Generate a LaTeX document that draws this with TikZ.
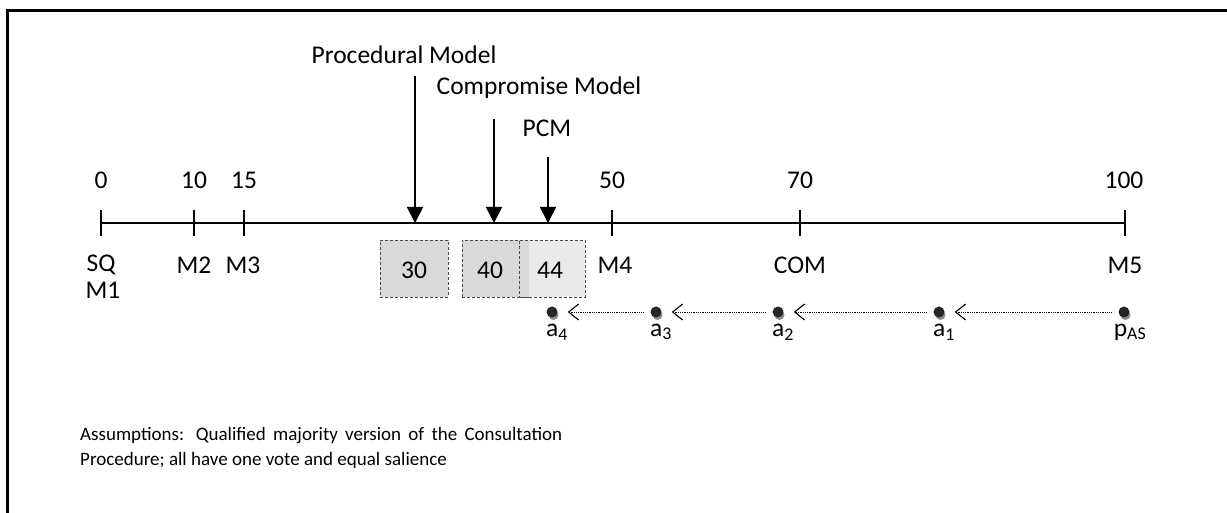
\documentclass[tikz,border=0pt]{standalone}
\usepackage{fontspec}
\setmainfont{Carlito}
\usetikzlibrary{arrows.meta,patterns}
\definecolor{boxgray}{HTML}{D9D9D9}
\definecolor{dotdark}{HTML}{262626}
\definecolor{shadowgray}{HTML}{8C8C8C}
\begin{document}
\begin{tikzpicture}[x=1pt,y=-1pt,
  lbl/.style={font=\fontsize{25.5}{30}\selectfont, inner sep=0pt},
  small/.style={font=\fontsize{19}{25.5}\selectfont, inner sep=0pt},
  tickmark/.style={line width=1.8pt},
  valbox/.style={draw=black!70, densely dashed, line width=0.8pt, fill=boxgray},
  modelarrow/.style={line width=1.8pt, -{Triangle[length=16pt,width=16pt]}},
  dotnode/.style={circle, fill=dotdark, inner sep=0pt, minimum size=11pt},
  dotline/.style={densely dotted, line width=0.8pt, -{Straight Barb[length=10pt,width=16pt,line width=1.1pt]}, shorten >=10pt, shorten <=7pt}
]
\useasboundingbox (0,0) rectangle (1227,513);
% frame
\draw[line width=3pt] (1227,11) -- (7,11) -- (7,513);

% axis
\coordinate (t0) at (101,223);
\coordinate (t10) at (194,223);
\coordinate (t15) at (244,223);
\coordinate (t50) at (612,223);
\coordinate (t70) at (800,223);
\coordinate (t100) at (1125,223);
\draw[line width=1.8pt] (t0) -- (t100);
\foreach \t in {t0,t10,t15,t50,t70,t100}
  \draw[tickmark] ([yshift=-13pt]\t) -- ([yshift=13pt]\t);

% numbers
\node[lbl] (n0) at (101,180) {0};
\node[lbl] (n10) at (194,180) {10};
\node[lbl] (n15) at (244,180) {15};
\node[lbl] (n50) at (612,180) {50};
\node[lbl] (n70) at (800,180) {70};
\node[lbl] (n100) at (1124,180) {100};

% positions below
\node[lbl] (sq) at (101,265) {SQ};
\node[lbl] (m1) at (103,290) {M1};
\node[lbl] (m2) at (194,265) {M2};
\node[lbl] (m3) at (243,265) {M3};
\node[lbl] (m4) at (615,265) {M4};
\node[lbl] (com) at (800,265) {COM};
\node[lbl] (m5) at (1125,265) {M5};

% boxes
\node[valbox, minimum width=68pt, minimum height=57pt, inner sep=0pt] (b30) at (414,268.5) {};
\node[valbox, minimum width=67pt, minimum height=57pt, inner sep=0pt] (b40) at (495.5,268.5) {};
\fill[white] (519,240) rectangle (585,297);
\fill[boxgray, opacity=0.55] (519,240) rectangle (585,297);
\fill[boxgray] (519,240) rectangle (529,297);
\node[draw=black!70, densely dashed, line width=0.8pt, minimum width=66pt, minimum height=57pt, inner sep=0pt] (b44) at (552,268.5) {};
\node[lbl] at (414,270) {30};
\node[lbl] at (490,270) {40};
\node[lbl] at (550,270) {44};

% model arrows
\node[lbl] (proc) at (404,55) {Procedural Model};
\node[lbl] (comp) at (539,88) {Compromise Model};
\node[lbl] (pcm) at (547,128) {PCM};
\coordinate (pa) at (415,76);
\coordinate (ca) at (494,119);
\coordinate (ma) at (548,157);
\draw[modelarrow] (pa) -- (415,223);
\draw[modelarrow] (ca) -- (494,223);
\draw[modelarrow] (ma) -- (548,223);

% dots
\foreach \n/\x in {a4/552,a3/656,a2/778,a1/939,pas/1124}{
  \fill[shadowgray] (\x+1.5,312+3) circle (5pt);
  \node[dotnode] (\n) at (\x,312) {};
}
\draw[dotline] (pas) -- (a1);
\draw[dotline] (a1) -- (a2);
\draw[dotline] (a2) -- (a3);
\draw[dotline] (a3) -- (a4);

\node[lbl] (la4) at (557,332) {a\textsubscript{4}};
\node[lbl] (la3) at (661,332) {a\textsubscript{3}};
\node[lbl] (la2) at (783,332) {a\textsubscript{2}};
\node[lbl] (la1) at (944,332) {a\textsubscript{1}};
\node[lbl] (lpas) at (1130,332) {p\textsubscript{AS}};

% assumptions
\node[small, anchor=north west, text width=482pt, align=justify] (ass) at (80,427)
 {Assumptions: Qualified majority version of the Consultation\linebreak Procedure; all have one vote and equal salience};
\end{tikzpicture}
\end{document}
